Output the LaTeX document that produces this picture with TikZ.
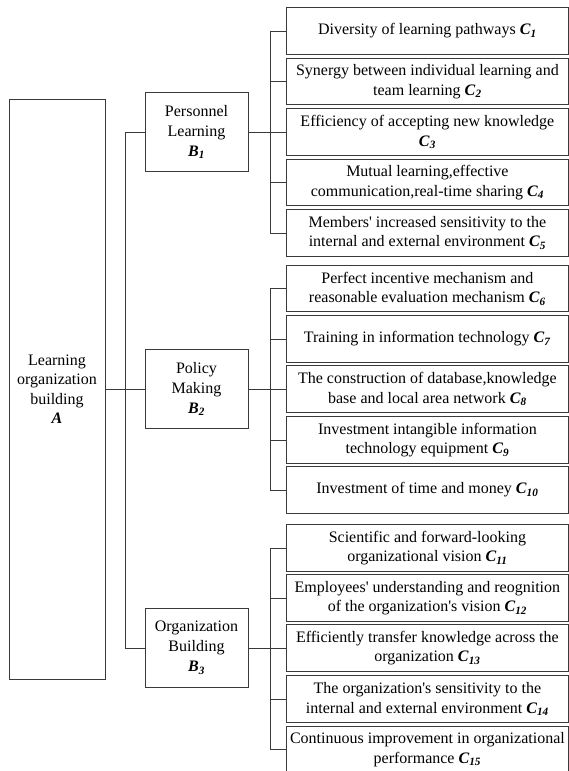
\documentclass[tikz,border=0pt]{standalone}
\usepackage{fontspec}
\setmainfont{Liberation Serif}
\definecolor{FrameGray}{HTML}{3A3A3A}
\usepackage{xcolor}
\usepackage{tikz}
\newcommand{\critlab}[2]{\textbf{\textit{#1}}\textsubscript{\textbf{\textit{#2}}}}

\begin{document}
\begin{tikzpicture}[x=1pt,y=-1pt,
    boxA/.style={draw=FrameGray,line width=0.8pt,align=center,inner sep=0pt,
      minimum width=96pt,minimum height=580pt,font=\fontsize{16}{19.5}\selectfont},
    boxB/.style={draw=FrameGray,line width=0.8pt,align=center,inner sep=0pt,
      minimum width=103pt,minimum height=79pt,font=\fontsize{16}{20}\selectfont},
    boxC/.style={draw=FrameGray,line width=0.8pt,align=center,inner sep=0pt,anchor=west,
      minimum width=282pt,minimum height=46.5pt,font=\fontsize{16}{19.5}\selectfont},
    link/.style={draw=FrameGray,line width=0.8pt}]
        \useasboundingbox (0,0) rectangle (568,771);
        % Goal
        \node[boxA] (A) at (57,389) {Learning\\organization\\building\\\textbf{\textit{A}}};
        % Criteria
        \node[boxB] (B1) at (196.5,132) {Personnel\\Learning\\\critlab{B}{1}};
        \node[boxB] (B2) at (196.5,389) {Policy\\Making\\\critlab{B}{2}};
        \node[boxB] (B3) at (196.5,648) {Organization\\Building\\\critlab{B}{3}};
        % Indicators of B1
        \node[boxC] (C1) at (286,31) {Diversity of learning pathways \critlab{C}{1}};
        \node[boxC] (C2) at (286,81.5) {Synergy between individual learning and\\team learning \critlab{C}{2}};
        \node[boxC] (C3) at (286,132) {Efficiency of accepting new knowledge\\\critlab{C}{3}};
        \node[boxC] (C4) at (286,182.5) {Mutual learning,effective\\communication,real-time sharing \critlab{C}{4}};
        \node[boxC] (C5) at (286,233) {Members\textquotesingle{} increased sensitivity to the\\internal and external environment \critlab{C}{5}};
        % Indicators of B2
        \node[boxC] (C6) at (286,288.5) {Perfect incentive mechanism and\\reasonable evaluation mechanism \critlab{C}{6}};
        \node[boxC] (C7) at (286,339) {Training in information technology \critlab{C}{7}};
        \node[boxC] (C8) at (286,389) {The construction of database,knowledge\\base and local area network \critlab{C}{8}};
        \node[boxC] (C9) at (286,440) {Investment intangible information\\technology equipment \critlab{C}{9}};
        \node[boxC] (C10) at (286,490) {Investment of time and money \critlab{C}{10}};
        % Indicators of B3
        \node[boxC] (C11) at (286,548) {Scientific and forward-looking\\organizational vision \critlab{C}{11}};
        \node[boxC] (C12) at (286,598) {Employees\textquotesingle{} understanding and reognition\\of the organization\textquotesingle{}s vision \critlab{C}{12}};
        \node[boxC] (C13) at (286,648) {Efficiently transfer knowledge across the\\organization \critlab{C}{13}};
        \node[boxC] (C14) at (286,699) {The organization\textquotesingle{}s sensitivity to the\\internal and external environment \critlab{C}{14}};
        \node[boxC] (C15) at (286,749.5) {Continuous improvement in organizational\\performance \critlab{C}{15}};
        % A to B
        \draw[link] (A.east) -- (B2.west);
        \draw[link] (B1.west) -- ++(-19,0) |- (B3.west);
        % B to C
        \draw[link] (B1.east) -- (C3.west);
        \draw[link] (C1.west) -- ++(-16,0) |- (C5.west);
        \draw[link] (C2.west) -- ++(-16,0);
        \draw[link] (C4.west) -- ++(-16,0);
        \draw[link] (B2.east) -- (C8.west);
        \draw[link] (C6.west) -- ++(-16,0) |- (C10.west);
        \draw[link] (C7.west) -- ++(-16,0);
        \draw[link] (C9.west) -- ++(-16,0);
        \draw[link] (B3.east) -- (C13.west);
        \draw[link] (C11.west) -- ++(-16,0) |- (C15.west);
        \draw[link] (C12.west) -- ++(-16,0);
        \draw[link] (C14.west) -- ++(-16,0);
      \end{tikzpicture}
\end{document}
